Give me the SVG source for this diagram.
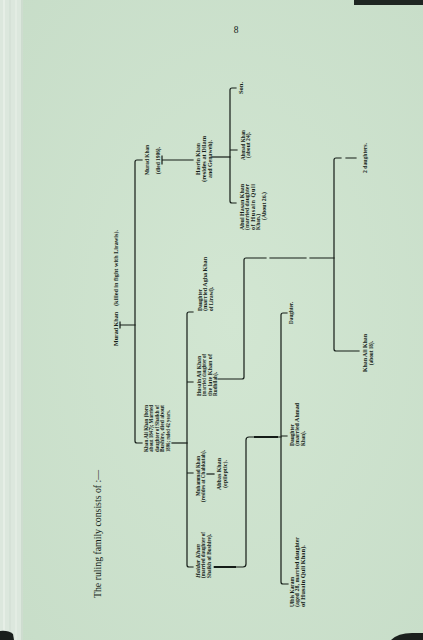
<svg xmlns="http://www.w3.org/2000/svg" width="423" height="640" viewBox="0 0 423 640">
<defs>
<radialGradient id="pg" cx="0.55" cy="0.5" r="0.75">
<stop offset="0" stop-color="#d2e6d2"/>
<stop offset="1" stop-color="#c7ddc8"/>
</radialGradient>
</defs>
<style>
.t{font-family:"Liberation Serif","Times New Roman",serif;font-size:6.2px;font-weight:bold;fill:#151d18}
.m{text-anchor:middle}
.i{font-style:italic}
.cap{font-family:"Liberation Serif","Times New Roman",serif;font-size:9.5px;fill:#151d18}
.c{fill:none;stroke:#141c17;stroke-width:1.2;stroke-linecap:square}
.k{fill:none;stroke:#141c17;stroke-width:2}
</style>
<g id="page">
<rect x="0" y="0" width="423" height="640" fill="url(#pg)"/>
<rect x="0" y="0" width="23" height="640" fill="#dce7dd"/>
<line x1="4" y1="0" x2="4" y2="640" stroke="#e6eee6" stroke-width="2"/>
<line x1="10" y1="0" x2="10" y2="640" stroke="#cfdcd1" stroke-width="1"/>
<line x1="16" y1="0" x2="16" y2="640" stroke="#e3ece3" stroke-width="2"/>
<line x1="22" y1="0" x2="22" y2="640" stroke="#c4d6c6" stroke-width="1.2"/>
<rect x="354" y="0" width="69" height="5" fill="#1f2622"/>
<path d="M0,631 Q8,630 13,634 L14,640 L0,640 Z" fill="#1a1f1c"/>
<path d="M391,640 Q398,633 412,633 L423,633 L423,640 Z" fill="#1a1f1c"/>
</g>
<text class="cap" x="236" y="33" text-anchor="middle" font-size="9">8</text>
<text class="cap" transform="translate(100.5,598) rotate(-90)" textLength="128" lengthAdjust="spacingAndGlyphs">The ruling family consists of :—</text>
<g id="connectors">
<path class="c" d="M120,322 V328 M120,325 H135"/>
<path class="c" d="M142,160 H137 Q135,160 135,162 V441 Q135,443 137,443 H142"/>
<path class="c" d="M162,156 V164 M162,160 H193"/>
<path class="c" d="M212,157 H230"/>
<path class="c" d="M236,88 H232 Q230,88 230,90 V201 Q230,203 232,203 H236 M230,150 H237"/>
<path class="c" d="M172,443 H187"/>
<path class="c" d="M193,312 H189 Q187,312 187,314 V565 Q187,567 189,567 H193 M187,382 H193 M187,473 H193"/>
<path class="c" d="M207,474 H214"/>
<path class="c" d="M218,379 H242 Q244,379 244,377 V260 Q244,258 246,258 H266 M270,258 H306 M310,258 H334"/>
<path class="c" d="M341,158 H336 Q334,158 334,160 V349 Q334,351 336,351 H359 M346,158 H356"/>
<path class="c" d="M214,567 H243 Q246,567 246,564 V440 Q246,437 249,437 H281"/>
<path class="k" d="M214,567 H236 M254,437 H278"/>
<path class="c" d="M287,313 H283 Q281,313 281,315 V582 Q281,584 283,584 H288 M281,436 H287"/>
</g>
<g id="murad-root" transform="translate(117.5,346) rotate(-90)">
<text class="t" x="0" y="0" textLength="34" lengthAdjust="spacingAndGlyphs">Murad Khan</text>
<text class="t" x="40" y="0" textLength="76" lengthAdjust="spacingAndGlyphs">(killed in fight with Lirawis).</text>
</g>
<g id="murad-1906" transform="translate(148.5,175) rotate(-90)">
<text class="t" x="0" y="0" textLength="30" lengthAdjust="spacingAndGlyphs">Murad Khan</text>
<text class="t" x="1" y="11" textLength="27" lengthAdjust="spacingAndGlyphs">(died 1906).</text>
</g>
<g id="hasrin" transform="translate(199.5,159) rotate(-90)">
<text class="t m" x="0" y="0" textLength="32" lengthAdjust="spacingAndGlyphs">Hasrin Khan</text>
<text class="t m" x="0" y="6" textLength="46" lengthAdjust="spacingAndGlyphs">(resides at Dilam</text>
<text class="t m" x="0" y="12" textLength="38" lengthAdjust="spacingAndGlyphs">and Genaweh).</text>
</g>
<g id="son" transform="translate(242.5,88) rotate(-90)">
<text class="t m" x="0" y="0" textLength="12" lengthAdjust="spacingAndGlyphs">Son.</text>
</g>
<g id="ahmad" transform="translate(244.5,145) rotate(-90)">
<text class="t m" x="0" y="0" textLength="30" lengthAdjust="spacingAndGlyphs">Ahmad Khan</text>
<text class="t m" x="0" y="5.6" textLength="26" lengthAdjust="spacingAndGlyphs">(about 24).</text>
</g>
<g id="abul-hasan" transform="translate(243.5,230) rotate(-90)">
<text class="t" x="0" y="0" textLength="46" lengthAdjust="spacingAndGlyphs">Abul Hasan Khan</text>
<text class="t" x="0" y="5.5" textLength="46" lengthAdjust="spacingAndGlyphs">(married daughter</text>
<text class="t" x="0" y="11" textLength="46" lengthAdjust="spacing">of Husain Quli</text>
<text class="t" x="0" y="16.5" textLength="16" lengthAdjust="spacingAndGlyphs">Khan.)</text>
<text class="t m" x="24" y="22" textLength="28" lengthAdjust="spacingAndGlyphs">(About 26.)</text>
</g>
<g id="khan-ali-khan" transform="translate(147.5,452) rotate(-90)">
<text class="t" x="0" y="0" textLength="47" lengthAdjust="spacingAndGlyphs">Khan Ali Khan (born</text>
<text class="t" x="0" y="5.5" textLength="47" lengthAdjust="spacingAndGlyphs">about 1847); Married</text>
<text class="t" x="0" y="11" textLength="47" lengthAdjust="spacingAndGlyphs">daughter of Shaikh of</text>
<text class="t" x="0" y="16.5" textLength="47" lengthAdjust="spacingAndGlyphs">Bushire, died about</text>
<text class="t" x="0" y="22" textLength="42" lengthAdjust="spacingAndGlyphs">1896; ruled 42 years.</text>
</g>
<g id="daughter-agha" transform="translate(201.5,311) rotate(-90)">
<text class="t" x="0" y="0" textLength="22" lengthAdjust="spacingAndGlyphs">Daughter</text>
<text class="t" x="0" y="5.5" textLength="54" lengthAdjust="spacingAndGlyphs">(married Agha Khan</text>
<text class="t" x="0" y="11" textLength="24" lengthAdjust="spacingAndGlyphs">of Lirawi).</text>
</g>
<g id="husain-ali" transform="translate(200.5,396) rotate(-90)">
<text class="t" x="0" y="0" textLength="40" lengthAdjust="spacingAndGlyphs">Husain Ali Khan</text>
<text class="t" x="0" y="5.5" textLength="42" lengthAdjust="spacingAndGlyphs">(married daughter of</text>
<text class="t" x="0" y="11" textLength="42" lengthAdjust="spacing">the late Khan of</text>
<text class="t" x="0" y="16.5" textLength="24" lengthAdjust="spacingAndGlyphs">Rudhilah).</text>
</g>
<g id="muhammad" transform="translate(199.5,476) rotate(-90)">
<text class="t m" x="0" y="0" textLength="40" lengthAdjust="spacingAndGlyphs">Muhammad Khan</text>
<text class="t m" x="0" y="5.5" textLength="52" lengthAdjust="spacingAndGlyphs">(resides at Chahkutah).</text>
</g>
<g id="abbas" transform="translate(220.5,474) rotate(-90)">
<text class="t m" x="0" y="0" textLength="32" lengthAdjust="spacingAndGlyphs">Abbas Khan</text>
<text class="t m" x="0" y="6" textLength="28" lengthAdjust="spacingAndGlyphs">(epileptic).</text>
</g>
<g id="haidar" transform="translate(199.5,578) rotate(-90)">
<text class="t i" x="0" y="0" textLength="34" lengthAdjust="spacingAndGlyphs">Haidar Khan</text>
<text class="t" x="0" y="5.5" textLength="46" lengthAdjust="spacingAndGlyphs">(married daughter of</text>
<text class="t" x="0" y="11" textLength="44" lengthAdjust="spacingAndGlyphs">Shaikh of Bushire).</text>
</g>
<g id="daughter" transform="translate(292.5,324) rotate(-90)">
<text class="t" x="0" y="0" textLength="22" lengthAdjust="spacingAndGlyphs">Daughter.</text>
</g>
<g id="daughter-ahmad" transform="translate(293.5,446) rotate(-90)">
<text class="t" x="0" y="0" textLength="22" lengthAdjust="spacingAndGlyphs">Daughter</text>
<text class="t" x="0" y="5.5" textLength="43" lengthAdjust="spacingAndGlyphs">(married Ahmad</text>
<text class="t" x="0" y="11" textLength="15" lengthAdjust="spacingAndGlyphs">Khan).</text>
</g>
<g id="ulbis" transform="translate(293.5,607) rotate(-90)">
<text class="t" x="0" y="0" textLength="30" lengthAdjust="spacingAndGlyphs">Ulbis Karam</text>
<text class="t" x="0" y="5.5" textLength="70" lengthAdjust="spacingAndGlyphs">(aged 28, married daughter</text>
<text class="t" x="0" y="11" textLength="62" lengthAdjust="spacingAndGlyphs">of Husain Quli Khan).</text>
</g>
<g id="two-daughters" transform="translate(366.5,158) rotate(-90)">
<text class="t m" x="0" y="0" textLength="30" lengthAdjust="spacingAndGlyphs">2 daughters.</text>
</g>
<g id="khan-ali-18" transform="translate(366.5,353) rotate(-90)">
<text class="t m" x="0" y="0" textLength="38" lengthAdjust="spacingAndGlyphs">Khan Ali Khan</text>
<text class="t m" x="0" y="6" textLength="24" lengthAdjust="spacingAndGlyphs">(about 18).</text>
</g>
</svg>
